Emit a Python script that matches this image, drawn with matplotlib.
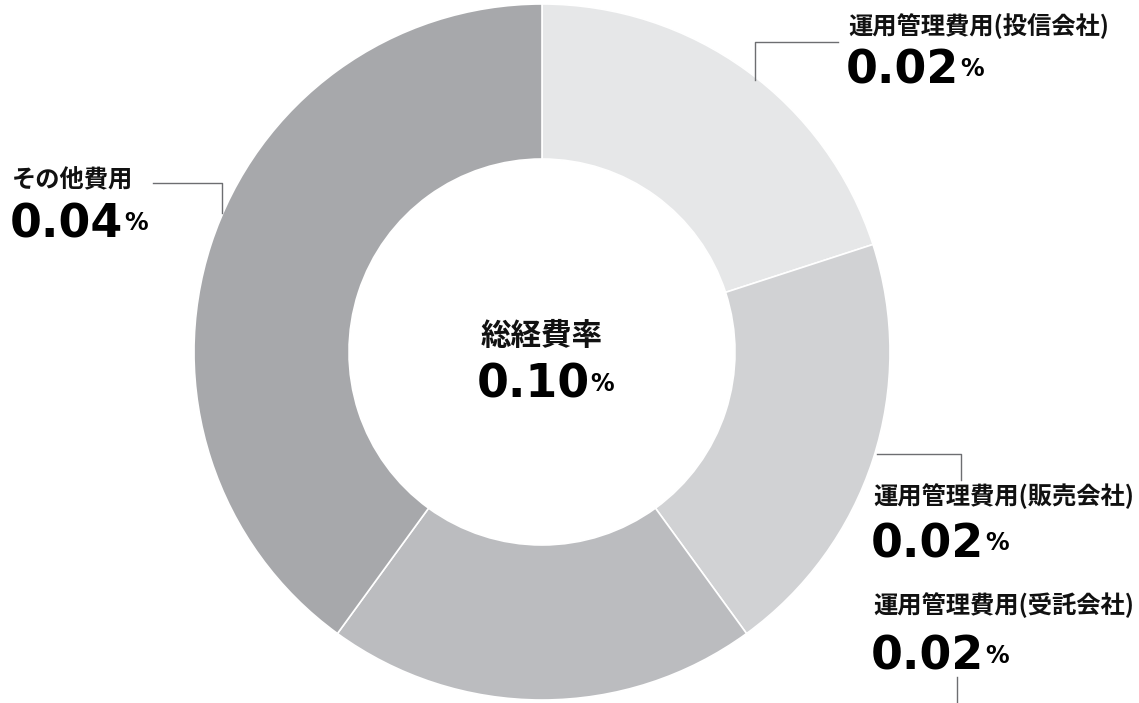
import matplotlib
matplotlib.use("Agg")
import matplotlib.pyplot as plt

# data
categories = ["運用管理費用(投信会社)", "運用管理費用(販売会社)", "運用管理費用(受託会社)", "その他費用"]
values = [0.02, 0.02, 0.02, 0.04]
colors = ["#e6e7e8", "#d1d2d4", "#bbbcbf", "#a7a8ab"]
total_label = "総経費率"
total_value = 0.10

JP = ["Noto Sans CJK JP", "DejaVu Sans"]
NUM = ["DejaVu Sans"]

fig = plt.figure(figsize=(11.39, 7.03), dpi=100)
ax = fig.add_axes([0, 0, 1, 1])

# donut in pixel coordinates (y axis points down, so angles are mirrored)
cx, cy, r_out, r_in = 542, 352, 348, 193
ax.pie(values, colors=colors, startangle=-90, counterclock=True,
       center=(cx, cy), radius=r_out, frame=True,
       wedgeprops=dict(width=r_out - r_in, edgecolor="white", linewidth=1.2))
ax.set_xlim(0, 1139)
ax.set_ylim(703, 0)
ax.set_aspect("auto")
ax.axis("off")

numbers = []


def value_text(x, y, val, ha="left"):
    t = ax.text(x, y, f"{val:.2f}", fontsize=33, fontweight="bold",
                family=NUM, ha=ha, va="baseline", color="black")
    numbers.append((t, y))


# label positions (left x, label center y, number baseline y)
label_pos = [(848, 26, 83), (873, 496, 557), (873, 605, 670), (12, 180, 237)]
for name, val, (lx, ly, ny) in zip(categories, values, label_pos):
    ax.text(lx, ly, name, fontsize=17.5, fontweight="bold", family=JP,
            ha="left", va="center", color="#111111")
    value_text(lx - 2, ny, val)

# center text
ax.text(cx, 336, total_label, fontsize=22, fontweight="bold", family=JP,
        ha="center", va="center", color="#111111")
value_text(533, 398, total_value, ha="center")

# small raised "%" after each number
fig.canvas.draw()
for t, y in numbers:
    bb = t.get_window_extent()
    ax.text(bb.x1 + 1, y - 7, "%", fontsize=17, fontweight="bold",
            family=NUM, ha="left", va="baseline", color="black")

# leader lines
lc = dict(color="#6d6e71", linewidth=1.0)
ax.plot([838, 755, 755], [42, 42, 80], **lc)
ax.plot([153, 222, 222], [183, 183, 213], **lc)
ax.plot([877, 961, 961], [454, 454, 480], **lc)
ax.plot([957, 957], [677, 703], **lc)

fig.savefig("out.png", dpi=100)
